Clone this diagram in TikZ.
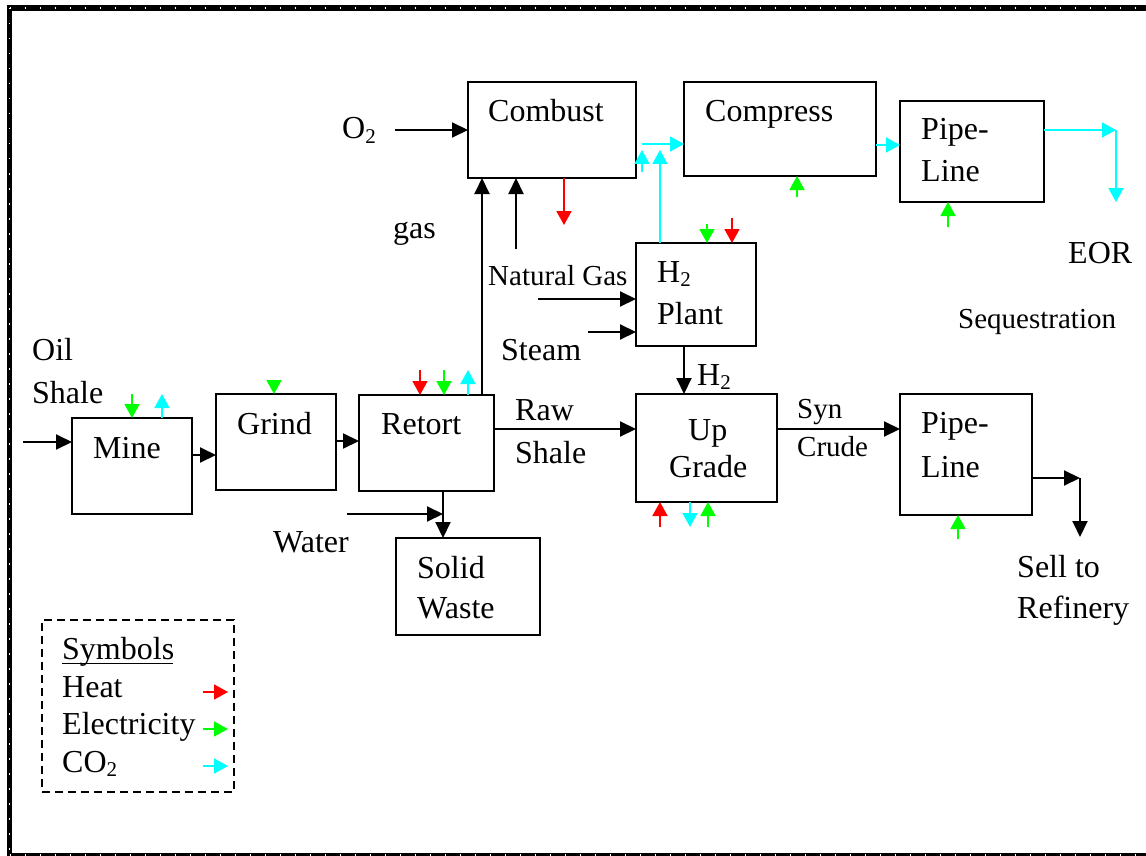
\documentclass[tikz,border=0pt]{standalone}
\usepackage{fontspec}
\setmainfont{Liberation Serif}
\usetikzlibrary{arrows.meta}
\newcommand\subtwo{\raisebox{-0.28ex}{\fontsize{21}{21}\selectfont 2}}
\begin{document}
\begin{tikzpicture}[x=1pt,y=-1pt,
  box/.style={draw,line width=2.2pt,inner sep=0pt,outer sep=0pt,rectangle},
  lbl/.style={anchor=base west,inner sep=0pt,font=\fontsize{32}{38}\selectfont},
  slbl/.style={anchor=base west,inner sep=0pt,font=\fontsize{29}{35}\selectfont},
  blk/.style={line width=2pt,-{Triangle[length=16pt,width=15pt]}},
  col/.style={line width=1.8pt,-{Triangle[length=14pt,width=15pt]}},
  heat/.style={col,draw={rgb,255:red,255;green,0;blue,0},fill={rgb,255:red,255;green,0;blue,0}},
  elec/.style={col,draw={rgb,255:red,0;green,255;blue,0},fill={rgb,255:red,0;green,255;blue,0}},
  cotwo/.style={col,draw={rgb,255:red,0;green,255;blue,255},fill={rgb,255:red,0;green,255;blue,255}}]
\useasboundingbox (0,0) rectangle (1146,856);
% frame
\draw[line width=5.5pt] (9.5,8) rectangle (1160,856);
\draw[white,line width=1.5pt,dash pattern=on 1.5pt off 13.5pt] (9.5,8) -- (1160,8);
\draw[white,line width=1.5pt,dash pattern=on 1.5pt off 13.5pt] (9.5,8) -- (9.5,856);
\draw[white,line width=1.5pt,dash pattern=on 1.5pt off 13.5pt] (9.5,855) -- (1160,855);
% boxes
\node[box,minimum width=120pt,minimum height=96pt] (mine) at (132,466) {};
\node[box,minimum width=120pt,minimum height=96pt] (grind) at (276,442) {};
\node[box,minimum width=135pt,minimum height=96pt] (retort) at (426.5,443) {};
\node[box,minimum width=144pt,minimum height=97pt] (solid) at (468,586.5) {};
\node[box,minimum width=168pt,minimum height=96pt] (combust) at (552,130) {};
\node[box,minimum width=192pt,minimum height=94pt] (compress) at (780,129) {};
\node[box,minimum width=144pt,minimum height=101pt] (pipeA) at (972,151.5) {};
\node[box,minimum width=120pt,minimum height=103pt] (htwo) at (696,294.5) {};
\node[box,minimum width=141pt,minimum height=108pt] (upgrade) at (706.5,448) {};
\node[box,minimum width=132pt,minimum height=121pt] (pipeB) at (966,454.5) {};
\node[draw,line width=1.6pt,dash pattern=on 8pt off 5pt,inner sep=0pt,minimum width=192pt,minimum height=172pt] (legend) at (138,706) {};
% box texts
\node[lbl] (tmine) at (93,458) {Mine};
\node[lbl] (tgrind) at (237,434) {Grind};
\node[lbl] (tretort) at (381,434) {Retort};
\node[lbl] (tsolid) at (417,578) {Solid};
\node[lbl] (twaste) at (417,618) {Waste};
\node[lbl] (tcombust) at (488,122) {Combust};
\node[lbl] (tcompress) at (705,122) {Compress};
\node[lbl] (tpipeA) at (921,140) {Pipe-};
\node[lbl] (tlineA) at (921,182) {Line};
\node[lbl] (th2) at (657,282) {H\subtwo};
\node[lbl] (tplant) at (657,324) {Plant};
\node[lbl] (tup) at (688,440) {Up};
\node[lbl] (tgrade) at (669,477) {Grade};
\node[lbl] (tpipeB) at (921,433) {Pipe-};
\node[lbl] (tlineB) at (921,477) {Line};
% labels
\node[lbl] (toil) at (32,360) {Oil};
\node[lbl] (tshale) at (32,403) {Shale};
\node[lbl] (to2) at (342,139) {O\subtwo};
\node[lbl] (tgas) at (393,238) {gas};
\node[slbl] (tng) at (488,285) {Natural Gas};
\node[lbl] (tsteam) at (501,360) {Steam};
\node[lbl] (th2b) at (697,385) {H\subtwo};
\node[lbl] (traw) at (515,420) {Raw};
\node[lbl] (trshale) at (515,463) {Shale};
\node[slbl] (tsyn) at (797,418) {Syn};
\node[slbl] (tcrude) at (797,456) {Crude};
\node[lbl] (twater) at (273,552) {Water};
\node[lbl] (tsell) at (1017,577) {Sell to};
\node[lbl] (tref) at (1017,618) {Refinery};
\node[lbl] (teor) at (1068,263) {EOR};
\node[slbl] (tseq) at (958,328) {Sequestration};
% legend texts
\node[lbl] (tsym) at (62,659) {Symbols};
\draw[line width=1.6pt] (tsym.base west) ++(0,4.5) -- ++(111,0);
\node[lbl] (theat) at (62,697) {Heat};
\node[lbl] (telec) at (62,734) {Electricity};
\node[lbl] (tco2) at (62,772) {CO\subtwo};
\coordinate (lgA1) at (203,692); \coordinate (lgA2) at (228,692);
\coordinate (lgB1) at (203,729); \coordinate (lgB2) at (228,729);
\coordinate (lgC1) at (203,766); \coordinate (lgC2) at (228,766);
\draw[heat] (lgA1) -- (lgA2);
\draw[elec] (lgB1) -- (lgB2);
\draw[cotwo] (lgC1) -- (lgC2);
% coordinates
\coordinate (oilin) at (23,442);
\coordinate (o2in) at (395,130);
\coordinate (ngin) at (516,249);
\coordinate (nghin) at (538,299);
\coordinate (stin) at (588,332);
\coordinate (wtin) at (347,514);
\coordinate (wtj) at (443,514);
\coordinate (sellA) at (1080,478);
\coordinate (sellB) at (1080,537);
\coordinate (eorA) at (1116,130);
\coordinate (eorB) at (1116,202);
\coordinate (cjA) at (642,144);
\coordinate (cjB) at (642,172);
\coordinate (cjC) at (642,150);
\coordinate (cjD) at (660,150);
% black flows
\draw[blk] (oilin) -- (mine.west |- oilin);
\draw[blk] (mine.east |- 0,455) -- (grind.west |- 0,455);
\draw[blk] (grind.east |- 0,441) -- (retort.west |- 0,441);
\draw[blk] (retort.east |- 0,429) -- (upgrade.west |- 0,429);
\draw[blk] (retort.north -| 482,0) -- (combust.south -| 482,0);
\draw[blk] (ngin) -- (combust.south -| ngin);
\draw[blk] (o2in) -- (combust.west |- o2in);
\draw[blk] (nghin) -- (htwo.west |- nghin);
\draw[blk] (stin) -- (htwo.west |- stin);
\draw[blk] (htwo.south -| 684,0) -- (upgrade.north -| 684,0);
\draw[blk] (upgrade.east |- 0,429) -- (pipeB.west |- 0,429);
\draw[blk] (pipeB.east |- sellA) -- (sellA);
\draw[blk] (sellA) -- (sellB);
\draw[blk] (retort.south -| wtj) -- (solid.north -| wtj);
\draw[blk] (wtin) -- (wtj);
% CO2
\draw[cotwo] (cjA) -- (compress.west |- cjA);
\draw[cotwo] (cjB) -- (cjC);
\draw[cotwo] (htwo.north -| cjD) -- (cjD);
\draw[cotwo] (compress.east |- 0,145) -- (pipeA.west |- 0,145);
\draw[cotwo] (pipeA.east |- eorA) -- (eorA);
\draw[cotwo] (eorA) -- (eorB);
\draw[cotwo] (mine.north -| 162,0) -- (162,394);
\draw[cotwo] (retort.north -| 468,0) -- (468,370);
\draw[cotwo] (upgrade.south -| 690,0) -- (690,527);
% electricity
\draw[elec] (132,394) -- (mine.north -| 132,0);
\draw[elec] (274,381) -- (grind.north -| 274,0);
\draw[elec] (444,370) -- (retort.north -| 444,0);
\draw[elec] (797,197) -- (compress.south -| 797,0);
\draw[elec] (948,227) -- (pipeA.south -| 948,0);
\draw[elec] (707,224) -- (htwo.north -| 707,0);
\draw[elec] (708,527) -- (upgrade.south -| 708,0);
\draw[elec] (958,539) -- (pipeB.south -| 958,0);
% heat
\draw[heat] (combust.south -| 564,0) -- (564,225);
\draw[heat] (420,370) -- (retort.north -| 420,0);
\draw[heat] (732,218) -- (htwo.north -| 732,0);
\draw[heat] (660,527) -- (upgrade.south -| 660,0);
\end{tikzpicture}
\end{document}
